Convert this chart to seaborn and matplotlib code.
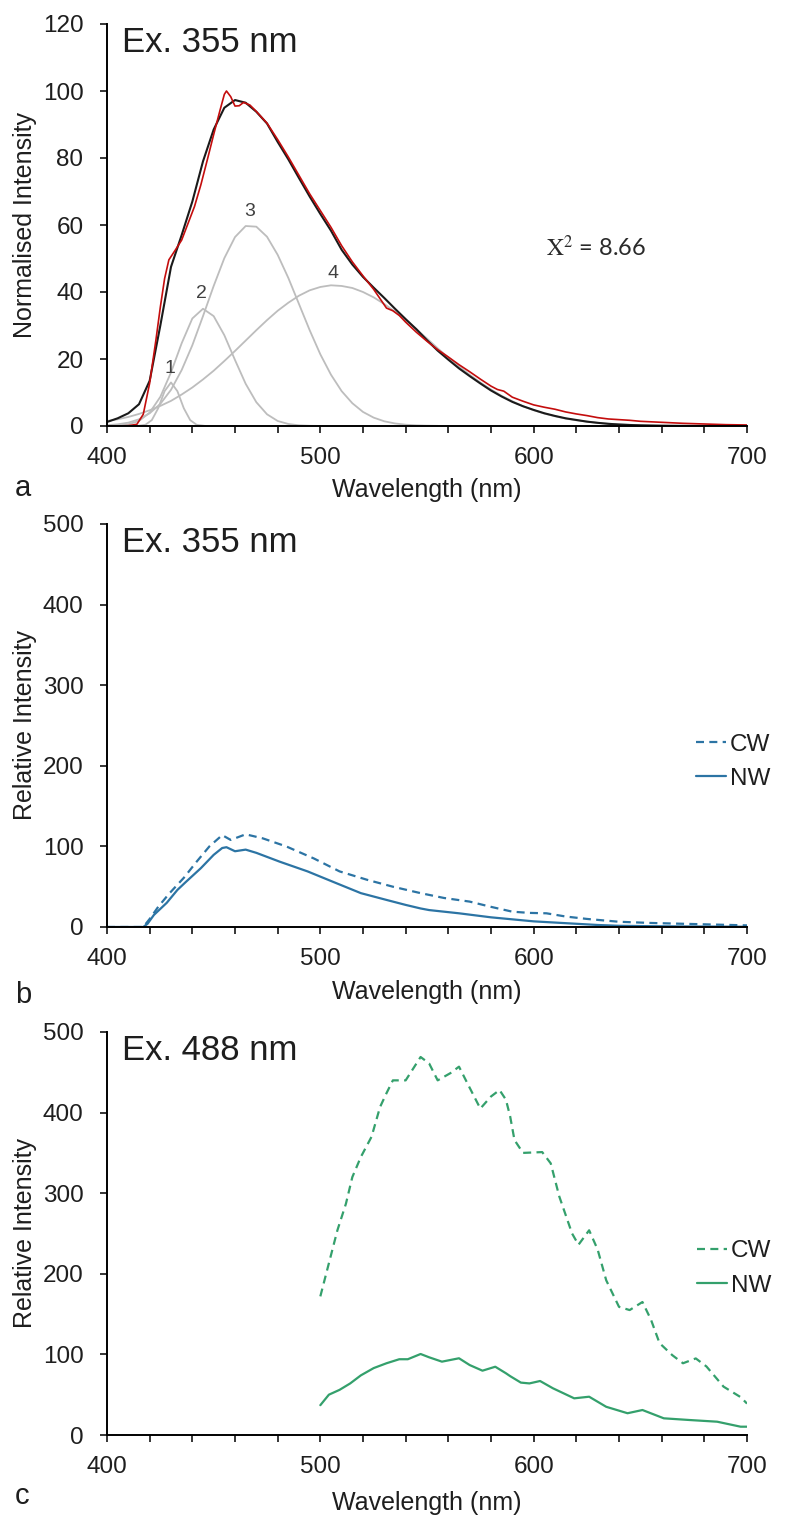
#!/usr/bin/env python3
'''
Emission spectra figure:

- a: 355 nm spectrum with the four-peak fit
- b: CW / NW spectra at 355 nm excitation
- c: CW / NW spectra at 488 nm excitation
'''
import matplotlib
matplotlib.use('Agg')

import matplotlib.pyplot as plt
import seaborn as sns
from matplotlib.ticker import MultipleLocator


# panel a: measured spectrum (red)
meas_wl = [400, 405, 410, 414, 417, 420, 423, 425, 427, 429, 432, 435, 438, 441, 444, 447, 450, 453,
	455, 456, 458, 460, 462, 464, 467, 470, 475, 480, 485, 490, 495, 500, 505, 510, 515, 520, 525,
	528, 531, 534, 537, 540, 545, 550, 555, 560, 565, 570, 575, 580, 583, 586, 590, 595, 600, 605,
	610, 615, 620, 625, 630, 635, 640, 645, 650, 660, 670, 680, 690, 700]
meas_val = [0, 0, 0.1, 0.5, 3.5, 12.8, 26, 35.5, 44, 49.6, 52.5, 55.5, 60.5, 65.5, 72, 79.4, 87, 94.3,
	99, 100, 98.3, 95.5, 95.6, 96.6, 95.8, 93.9, 90.4, 85.5, 80.3, 74.8, 69.3, 64.3, 59.3, 53.8, 49.0,
	44.8, 40.8, 38.0, 35.2, 34.4, 33.0, 31.0, 28.0, 25.3, 22.8, 20.6, 18.3, 16.2, 14.0, 11.9, 10.9,
	10.4, 8.6, 7.4, 6.3, 5.6, 5.0, 4.2, 3.6, 3.1, 2.5, 2.1, 1.9, 1.7, 1.4, 1.1, 0.8, 0.6, 0.4, 0.3]

# panel a: fitted envelope (black) on a 5 nm grid
fit_wl = [400, 405, 410, 415, 420, 425, 430, 435, 440, 445, 450, 455, 460, 465, 470, 475, 480, 485,
	490, 495, 500, 505, 510, 515, 520, 525, 530, 535, 540, 545, 550, 555, 560, 565, 570, 575, 580,
	585, 590, 595, 600, 605, 610, 615, 620, 625, 630, 635, 640, 645, 650, 655, 660, 665, 670, 675,
	680, 685, 690, 695, 700]
fit_val = [1.2, 2.3, 3.8, 6.5, 13.5, 30, 47.5, 57, 67, 79, 88.5, 95, 97.3, 96.5, 93.8, 90.3, 84.8, 79.6,
	74.0, 68.5, 63.3, 58.3, 52.6, 48.2, 44.5, 41.3, 38.2, 35.0, 31.9, 28.9, 25.6, 22.5, 19.8, 17.2,
	14.9, 12.7, 10.6, 8.8, 7.2, 5.9, 4.8, 3.8, 3.0, 2.3, 1.8, 1.3, 0.95, 0.65, 0.45, 0.3, 0.2, 0.13,
	0.08, 0.05, 0.03, 0.02, 0.01, 0, 0, 0, 0]

# panel a: fitted components (grey)
peak1_wl = [414, 418, 421, 424, 427, 430, 433, 436, 439, 442, 446]
peak1_val = [0.02, 0.37, 1.76, 5.3, 10.4, 13.0, 10.4, 5.3, 1.76, 0.37, 0.02]

peak2_wl = [400, 405, 410, 415, 420, 425, 430, 435, 440, 445, 450, 455, 460, 465, 470, 475, 480, 485,
	490, 495, 500]
peak2_val = [0.03, 0.14, 0.5, 1.5, 4.0, 8.7, 16.0, 24.7, 32.1, 35.0, 32.8, 27.1, 19.7, 12.6, 7.1, 3.5,
	1.5, 0.6, 0.2, 0.06, 0.02]

peak3_wl = [400, 405, 410, 415, 420, 425, 430, 435, 440, 445, 450, 455, 460, 465, 470, 475, 480, 485,
	490, 495, 500, 505, 510, 515, 520, 525, 530, 535, 540, 545, 550, 555]
peak3_val = [0.22, 0.5, 1.0, 2.0, 3.8, 6.6, 10.8, 16.7, 24.1, 32.8, 41.8, 50.1, 56.4, 59.7, 59.5, 56.5,
	51.1, 44.2, 36.4, 28.6, 21.4, 15.3, 10.4, 6.8, 4.2, 2.5, 1.4, 0.76, 0.39, 0.19, 0.09, 0.04]

peak4_wl = fit_wl
peak4_val = [1.5, 2.0, 2.7, 3.6, 4.7, 6.0, 7.5, 9.4, 11.5, 13.9, 16.5, 19.4, 22.4, 25.5, 28.6, 31.6,
	34.4, 36.8, 38.9, 40.5, 41.5, 42.0, 41.8, 41.2, 40.0, 38.4, 36.4, 34.1, 31.6, 28.9, 26.1, 23.2,
	20.4, 17.8, 15.3, 13.0, 10.9, 9.0, 7.4, 5.9, 4.7, 3.7, 2.9, 2.2, 1.7, 1.3, 0.94, 0.69, 0.5, 0.36,
	0.25, 0.18, 0.12, 0.08, 0.05, 0.03, 0.02, 0.01, 0.01, 0, 0]

peak_labels = ['1', '2', '3', '4']
peak_label_wl = [429.5, 444.4, 466.7, 506.1]
peak_label_val = [17.3, 39.6, 64.0, 45.6]

chi2_text = r'$\mathrm{X}^{2}$ = 8.66'

# panel b: 355 nm excitation
cw355_wl = [400, 410, 417, 420, 424, 429, 436, 442, 448, 454, 458, 461, 465, 473, 484, 497, 509, 522,
	534, 547, 558, 570, 580, 590, 598, 606, 615, 625, 640, 655, 670, 685, 700]
cw355_val = [0, 0, 0, 10, 25, 41, 61, 81, 100, 114, 108, 111, 115, 110, 100, 85, 69, 58.5, 50, 42, 36,
	31.5, 25, 19, 17.5, 17, 13, 10, 6.5, 5, 4, 3, 2]

nw355_wl = [400, 410, 417, 419, 422, 428, 433, 437, 444, 450, 454, 456, 460, 465, 470, 481, 494, 506,
	519, 531, 540, 547, 551, 565, 580, 590, 600, 610, 620, 630, 640, 655, 670, 685, 700]
nw355_val = [0, 0, 0, 4, 15, 30, 46, 56, 73, 89.5, 98, 99, 94, 96, 92, 81, 69, 56, 42, 33.6, 27.4, 23,
	21, 17, 12, 9.5, 7, 5.5, 4, 2.5, 1.5, 1, 0.7, 0.5, 0.3]

# panel c: 488 nm excitation
cw488_wl = [500, 504, 508, 512, 515, 519, 524, 528, 531, 534, 540, 547, 551, 555, 561, 565, 569, 575,
	580, 584, 587, 589, 591, 595, 604, 608, 612, 618, 621, 626, 630, 634, 640, 645, 651, 655, 659,
	665, 670, 676, 681, 689, 697, 700]
cw488_val = [172, 213, 254, 287, 320, 345, 370, 407, 424, 440, 440, 469, 461, 440, 449, 457, 436, 405,
	420, 428, 416, 395, 366, 350, 351, 337, 296, 250, 236, 254, 230, 192, 159, 155, 165, 143, 114,
	99, 89, 95, 85, 60, 47, 39]

nw488_wl = [500, 504, 509, 514, 519, 525, 531, 537, 541, 547, 551, 557, 565, 570, 576, 582, 587, 589,
	594, 598, 603, 609, 619, 626, 634, 644, 651, 661, 673, 686, 697, 700]
nw488_val = [37, 50, 56, 64, 74, 83, 89, 94, 94, 100.5, 96.4, 91, 95.2, 86.8, 79.8, 84.7, 76.6, 73,
	65, 64, 67, 58, 45.5, 47.5, 35, 27, 31, 20.7, 18.6, 16.5, 10.3, 10.3]

series_labels = ['CW', 'NW']

FIG_W, FIG_H = 788, 1526
TEXT = '#1e1e1e'



def add_panel(fig, top, bottom, left=107, right=747):
	# axes rectangle given in pixel rows/columns of the figure
	return fig.add_axes([
		left / FIG_W, 1 - bottom / FIG_H,
		(right - left) / FIG_W, (bottom - top) / FIG_H])



def style_axis(ax, ymax, ystep, ylabel, title, xlabel_y):
	ax.set_xlim(400, 700)
	ax.set_ylim(0, ymax)
	ax.xaxis.set_major_locator(MultipleLocator(100))
	ax.xaxis.set_minor_locator(MultipleLocator(20))
	ax.yaxis.set_major_locator(MultipleLocator(ystep))

	ax.tick_params(which='both', direction='out', length=5, width=1.1,
		color='black', labelcolor=TEXT, labelsize=17.5)
	ax.tick_params(axis='y', pad=12)
	ax.tick_params(axis='x', pad=10)

	sns.despine(ax=ax)
	for side in ['left', 'bottom']:
		ax.spines[side].set_linewidth(1.4)
		ax.spines[side].set_color('black')

	ax.set_xlabel('Wavelength (nm)', fontsize=18, color=TEXT)
	ax.set_ylabel(ylabel, fontsize=18, color=TEXT)
	ax.xaxis.set_label_coords(0.5, xlabel_y)
	ax.xaxis.label.set_verticalalignment('center')
	ax.yaxis.set_label_coords(-0.128, 0.5)
	ax.yaxis.label.set_verticalalignment('center')

	ax.text(0.023, 0.995, title, transform=ax.transAxes, fontsize=25,
		ha='left', va='top', color=TEXT)



def plot_fit(ax):
	grey = '#bdbdbd'
	for wl, val in [(peak1_wl, peak1_val), (peak2_wl, peak2_val),
			(peak3_wl, peak3_val), (peak4_wl, peak4_val)]:
		sns.lineplot(x=wl, y=val, ax=ax, color=grey, linewidth=1.3, estimator=None)

	sns.lineplot(x=fit_wl, y=fit_val, ax=ax, color='#1a1a1a', linewidth=1.5, estimator=None)
	sns.lineplot(x=meas_wl, y=meas_val, ax=ax, color='#c40d0d', linewidth=1.2, estimator=None)

	for label, x, y in zip(peak_labels, peak_label_wl, peak_label_val):
		ax.text(x, y, label, fontsize=14, color='#404040', ha='center', va='center')

	ax.text(606, 53.4, chi2_text, fontsize=17, color='#2a2a2a', ha='left', va='center',
		family=['Lato', 'DejaVu Sans'])



def plot_pair(ax, cw, nw, color, legend_xy):
	# dashed CW first so the legend lists it on top
	sns.lineplot(x=cw[0], y=cw[1], ax=ax, color=color, linewidth=1.6,
		linestyle=(0, (3.6, 2.4)), label=series_labels[0], estimator=None)
	sns.lineplot(x=nw[0], y=nw[1], ax=ax, color=color, linewidth=1.6,
		label=series_labels[1], estimator=None)

	ax.legend(loc='center left', bbox_to_anchor=legend_xy, frameon=False,
		fontsize=17.5, handlelength=1.25, handletextpad=0.15, borderpad=0,
		borderaxespad=0, labelspacing=0.5, labelcolor=TEXT)



if __name__ == '__main__':
	sns.set_theme(style='ticks')
	plt.rcParams['font.family'] = ['Liberation Sans', 'DejaVu Sans']
	plt.rcParams['mathtext.fontset'] = 'stix'

	fig = plt.figure(figsize=(FIG_W / 100, FIG_H / 100), dpi=100)

	# a: normalised spectrum and its peak fit
	ax_a = add_panel(fig, 24, 426)
	plot_fit(ax_a)
	style_axis(ax_a, 120, 20, 'Normalised Intensity', 'Ex. 355 nm', -0.158)

	# b: 355 nm excitation
	ax_b = add_panel(fig, 524, 927)
	plot_pair(ax_b, (cw355_wl, cw355_val), (nw355_wl, nw355_val), '#2c74a4', (0.92, 0.41))
	style_axis(ax_b, 500, 100, 'Relative Intensity', 'Ex. 355 nm', -0.162)

	# c: 488 nm excitation
	ax_c = add_panel(fig, 1032, 1435)
	plot_pair(ax_c, (cw488_wl, cw488_val), (nw488_wl, nw488_val), '#34a06c', (0.922, 0.413))
	style_axis(ax_c, 500, 100, 'Relative Intensity', 'Ex. 488 nm', -0.168)

	# panel letters
	for letter, base in zip(['a', 'b', 'c'], [496, 1003, 1504]):
		fig.text(15 / FIG_W, 1 - base / FIG_H, letter, fontsize=21, color=TEXT,
			ha='left', va='baseline')

	plt.savefig('out.png', dpi=100)
	plt.close()
